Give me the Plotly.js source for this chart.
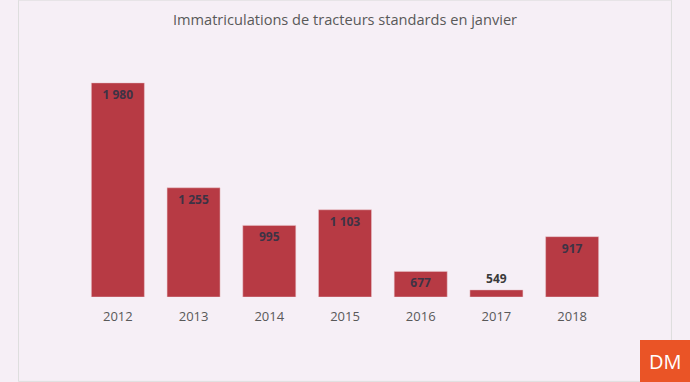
<!DOCTYPE html>
<html>
<head>
<meta charset="utf-8">
<script src="https://cdn.plot.ly/plotly-3.0.1.min.js"></script>
<style>html,body{margin:0;padding:0;background:#f6eff6;}#chart{width:690px;height:382px;}</style>
</head>
<body>
<div id="chart"></div>
<script>
const years = ['2012','2013','2014','2015','2016','2017','2018'];
const registrations = [1980, 1255, 995, 1103, 677, 549, 917];
const labelPositions = ['inside','inside','inside','inside','inside','outside','inside'];
const axisMin = 500, axisMax = 2000;

function fmt(v){ return String(v).replace(/\B(?=(\d{3})+(?!\d))/g, ' '); }

const font = 'Open Sans, Liberation Sans, sans-serif';
const trace = {
  type: 'bar',
  x: years,
  y: registrations.map(v => v - axisMin),
  base: axisMin,
  text: registrations.map(fmt),
  textposition: labelPositions,
  insidetextanchor: 'end',
  textfont: {family: font, size: 12, color: '#3d3345', weight: 700},
  outsidetextfont: {family: font, size: 12, color: '#3a3a3a', weight: 700},
  insidetextfont: {family: font, size: 12, color: '#3d3345', weight: 700},
  textangle: 0,
  cliponaxis: false,
  marker: {color: '#b73a44', line: {color: '#e8c6cc', width: 0.5}},
  hoverinfo: 'none'
};

const layout = {
  width: 690, height: 382,
  margin: {l: 80, r: 80, t: 80, b: 85},
  paper_bgcolor: '#f6eff6',
  plot_bgcolor: 'rgba(0,0,0,0)',
  bargap: 0.3,
  showlegend: false,
  title: {text: 'Immatriculations de tracteurs standards en janvier', x: 0.5, xanchor: 'center', y: 0.948, yanchor: 'middle',
          font: {family: font, size: 14.6, color: '#595959'}},
  xaxis: {type: 'category', showgrid: false, zeroline: false, showline: false, ticks: '', ticklabelstandoff: 10,
          tickfont: {family: font, size: 13, color: '#595959'}},
  yaxis: {range: [axisMin, axisMax], visible: false, showgrid: false, zeroline: false},
  shapes: [
    {type: 'rect', xref: 'paper', yref: 'paper', x0: -0.116, x1: 1.116, y0: -0.389, y1: 1.368,
     line: {color: '#dedede', width: 1}, fillcolor: 'rgba(0,0,0,0)'},
  ],
  annotations: []
};

const pw = 690 - 80 - 80, ph = 382 - 80 - 85;
function px(x){ return (x - 80) / pw; }
function py(y){ return (382 - 85 - y) / ph; }
layout.shapes.push({type: 'rect', xref: 'paper', yref: 'paper', x0: px(640), x1: px(690), y0: py(382), y1: py(340),
  fillcolor: '#ea5426', line: {width: 0}});
layout.annotations.push({xref: 'paper', yref: 'paper', x: px(665), y: py(361), text: 'DM', showarrow: false,
  xanchor: 'center', yanchor: 'middle', font: {family: font, size: 20, color: '#ffffff'}});

Plotly.newPlot('chart', [trace], layout, {staticPlot: true, displayModeBar: false});
</script>
</body>
</html>
